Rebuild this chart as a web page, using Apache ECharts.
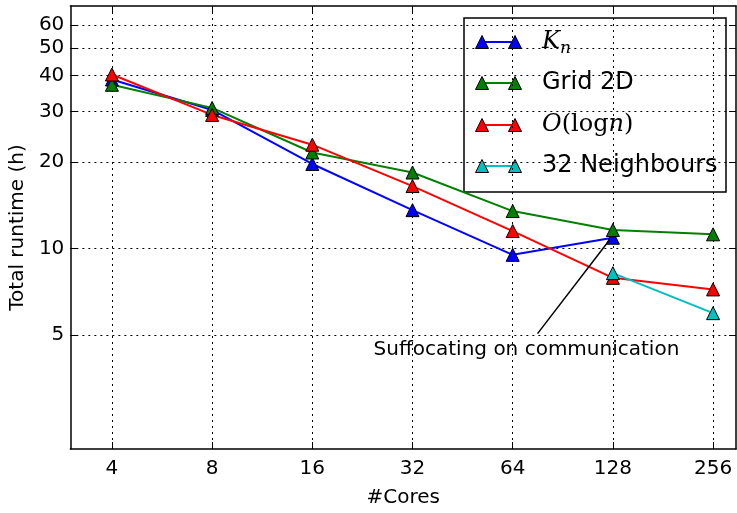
<!DOCTYPE html>
<html>
<head>
<meta charset="utf-8">
<script src="https://cdn.jsdelivr.net/npm/echarts@6.0.0/dist/echarts.min.js"></script>
<style>
  html, body { margin: 0; padding: 0; background: #fff; }
  #chart { width: 737px; height: 513px; }
</style>
</head>
<body>
<div id="chart"></div>
<script>
// Runtime vs. number of cores for several communication topologies
const cores = [4, 8, 16, 32, 64, 128, 256];
const knRuntime = [38.8, 30.4, 19.7, 13.6, 9.5, 10.9];
const grid2dRuntime = [37.2, 30.9, 21.6, 18.4, 13.5, 11.6, 11.2];
const logRuntime = [40.4, 29.2, 23.0, 16.5, 11.5, 7.9, 7.2];
const neighCores = [128, 256];
const neighRuntime = [8.2, 5.95];

const yTicks = [5, 10, 20, 30, 40, 50, 60];
const xTicks = cores;

const seriesNames = ['Kn', 'Grid 2D', 'O(logn)', '32 Neighbours'];
const seriesColors = ['#0000ff', '#008000', '#ff0000', '#00bfbf'];

const noteText = 'Suffocating on communication';
const noteArrowFrom = [76, 5.05];
const noteArrowTo = [125, 10.7];
const noteTextAt = [70.4, 4.45];

const FONT = 'DejaVu Sans';

function pairs(xs, ys) {
  return ys.map((v, i) => [xs[i], v]);
}

const chart = echarts.init(document.getElementById('chart'), null, { renderer: 'canvas' });

const dotted = { color: '#000', width: 1, type: [2, 4] };

function xAxisCfg(pos, main) {
  return {
    type: 'log', logBase: 2, min: 3, max: 300, position: pos,
    axisLine: { show: true, onZero: false, lineStyle: { color: '#000', width: 1.5 } },
    axisTick: { show: true, inside: true, length: 7, lineStyle: { color: '#000', width: 1 }, customValues: xTicks },
    axisLabel: main ? {
      show: true, customValues: xTicks, color: '#000', fontFamily: FONT, fontSize: 20, margin: 10,
      formatter: v => String(Math.round(v))
    } : { show: false },
    splitLine: main ? { show: true, lineStyle: dotted } : { show: false },
    minorTick: { show: false },
    name: main ? '#Cores' : '', nameLocation: 'middle', nameGap: 39,
    nameTextStyle: { color: '#000', fontFamily: FONT, fontSize: 20 }
  };
}

function yAxisCfg(pos, main) {
  return {
    type: 'log', logBase: 10, min: 2, max: 70, position: pos,
    axisLine: { show: true, onZero: false, lineStyle: { color: '#000', width: 1.5 } },
    axisTick: { show: true, inside: true, length: 7, lineStyle: { color: '#000', width: 1 }, customValues: yTicks },
    axisLabel: main ? {
      show: true, customValues: yTicks, color: '#000', fontFamily: FONT, fontSize: 20, margin: 6,
      padding: [3, 0, 0, 0],
      formatter: v => String(Math.round(v))
    } : { show: false },
    splitLine: main ? { show: true, lineStyle: dotted } : { show: false },
    minorTick: { show: false },
    name: main ? 'Total runtime (h)' : '', nameLocation: 'middle', nameGap: 40,
    nameTextStyle: { color: '#000', fontFamily: FONT, fontSize: 20 }
  };
}

function lineSeries(name, color, data, extra) {
  return Object.assign({
    name, type: 'line', data, xAxisIndex: 0, yAxisIndex: 0,
    symbol: 'triangle', symbolSize: 13, showSymbol: true,
    lineStyle: { color, width: 2 },
    itemStyle: { color, borderColor: '#000', borderWidth: 1 },
    emphasis: { disabled: true }
  }, extra || {});
}

const series = [
  lineSeries(seriesNames[0], seriesColors[0], pairs(cores, knRuntime), {
    markLine: {
      silent: true, symbol: ['none', 'arrow'], symbolSize: [0, 11],
      lineStyle: { color: '#000', width: 1.5, type: 'solid' },
      label: { show: false },
      data: [[{ coord: noteArrowFrom }, { coord: noteArrowTo }]]
    },
    markPoint: {
      silent: true, symbol: 'circle', symbolSize: 0,
      label: { show: true, position: 'inside', formatter: noteText, color: '#000', fontFamily: FONT, fontSize: 20 },
      data: [{ coord: noteTextAt }]
    }
  }),
  lineSeries(seriesNames[1], seriesColors[1], pairs(cores, grid2dRuntime)),
  lineSeries(seriesNames[2], seriesColors[2], pairs(cores, logRuntime)),
  lineSeries(seriesNames[3], seriesColors[3], pairs(neighCores, neighRuntime))
];

// Legend box: line sample with a marker at each end, then the label
const legendRich = {
  it: { fontFamily: 'DejaVu Serif', fontStyle: 'italic', fontSize: 24, color: '#000' },
  sub: { fontFamily: 'DejaVu Serif', fontStyle: 'italic', fontSize: 17, color: '#000', padding: [14, 0, 0, 0] },
  rm: { fontFamily: 'DejaVu Serif', fontSize: 24, color: '#000' },
  sans: { fontFamily: FONT, fontSize: 24, color: '#000' }
};
const legendLabels = [
  '{it|K}{sub|n}',
  '{sans|Grid 2D}',
  '{it|O}{rm|(log}{it|n}{rm|)}',
  '{sans|32 Neighbours}'
];
const legendRows = [42, 83, 125, 166];
const legendChildren = [{
  type: 'rect', shape: { x: 464, y: 18, width: 262, height: 174 },
  style: { fill: '#fff', stroke: '#000', lineWidth: 1.5 }
}];
function tri(cx, cy, color) {
  const h = 6.5;
  return {
    type: 'polygon', shape: { points: [[cx, cy - h], [cx + h, cy + h], [cx - h, cy + h]] },
    style: { fill: color, stroke: '#000', lineWidth: 1 }
  };
}
seriesColors.forEach((c, i) => {
  const y = legendRows[i];
  legendChildren.push({ type: 'line', shape: { x1: 482, y1: y, x2: 515, y2: y }, style: { stroke: c, lineWidth: 2 } });
  legendChildren.push(tri(482, y, c));
  legendChildren.push(tri(515, y, c));
  legendChildren.push({
    type: 'text', x: 542, y: y,
    style: { text: legendLabels[i], rich: legendRich, verticalAlign: 'middle', align: 'left' }
  });
});

chart.setOption({
  animation: false,
  backgroundColor: '#fff',
  grid: { left: 68, right: 1, top: 6, bottom: 61, containLabel: false },
  xAxis: [xAxisCfg('bottom', true), xAxisCfg('top', false)],
  yAxis: [yAxisCfg('left', true), yAxisCfg('right', false)],
  series,
  graphic: [{ type: 'group', z: 100, children: legendChildren }]
});
</script>
</body>
</html>
